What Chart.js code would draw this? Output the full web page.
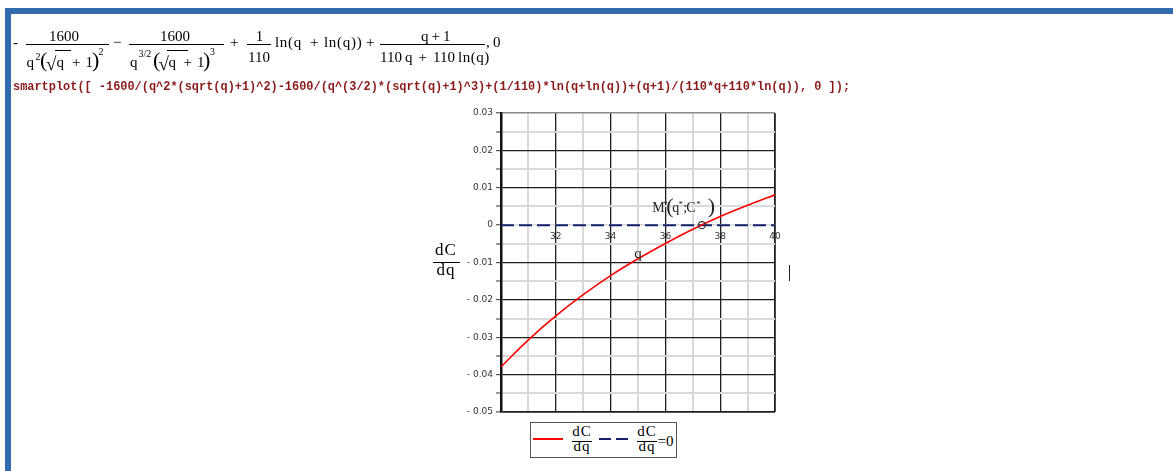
<!DOCTYPE html>
<html><head><meta charset="utf-8">
<script src="https://cdn.jsdelivr.net/npm/chart.js@4.4.1/dist/chart.umd.min.js"></script>
<style>
html,body{margin:0;padding:0;background:#fff;width:1173px;height:471px;overflow:hidden;}
#wrap{position:relative;width:1173px;height:471px;}
.t{position:absolute;white-space:pre;line-height:1;color:#000;}
.hb{position:absolute;}
canvas{position:absolute;left:0;top:0;}
</style></head><body><div id="wrap">
<div class="hb" style="left:5px;top:8px;width:1168px;height:6px;background:#316cad"></div>
<div class="hb" style="left:5px;top:8px;width:6px;height:463px;background:#316cad"></div>
<canvas id="c" width="1173" height="471"></canvas>
</div>
<script>
// ---- data ----
const qValues = [30, 31, 32, 33, 34, 35, 36, 37, 38, 39, 40];
const dCdqValues = [-0.0379, -0.0307, -0.0243, -0.0186, -0.0135, -0.0090, -0.0049, -0.0011, 0.0023, 0.0053, 0.0081];
const zeroLineQ = [30, 40];
const zeroLineValues = [0, 0];
const optimumQ = [37.33];
const optimumValues = [0];
const xTickLabels = [32, 34, 36, 38, 40];
const yTickValues = [0.03, 0.02, 0.01, 0, -0.01, -0.02, -0.03, -0.04, -0.05];
const yTickLabels = ['0.03', '0.02', '0.01', '0', '- 0.01', '- 0.02', '- 0.03', '- 0.04', '- 0.05'];
const codeText = 'smartplot([ -1600/(q^2*(sqrt(q)+1)^2)-1600/(q^(3/2)*(sqrt(q)+1)^3)+(1/110)*ln(q+ln(q))+(q+1)/(110*q+110*ln(q)), 0 ]);';

// ---- HTML text helpers ----
const wrap = document.getElementById('wrap');
const SERIF = '"Liberation Serif","Times New Roman",serif';
const MONO = '"Liberation Mono","Courier New",monospace';
function put(text, x, base, size, o = {}) {
  const s = document.createElement('span');
  s.className = 't';
  s.textContent = text;
  let k = 0.8375, fam = SERIF;
  if (o.mono) { k = 0.7665; fam = MONO; }
  s.style.fontFamily = fam;
  s.style.fontSize = size + 'px';
  s.style.left = x + 'px';
  s.style.top = (base - k * size) + 'px';
  if (o.center) s.style.transform = 'translateX(-50%)';
  if (o.color) s.style.color = o.color;
  if (o.bold) s.style.fontWeight = 'bold';
  if (o.ls) s.style.letterSpacing = o.ls + 'px';
  wrap.appendChild(s);
  return s;
}
function box(x, y, w, h, css) {
  const d = document.createElement('div');
  d.className = 'hb';
  d.style.left = x + 'px'; d.style.top = y + 'px';
  d.style.width = w + 'px'; d.style.height = h + 'px';
  d.style.cssText += ';' + css;
  wrap.appendChild(d);
  return d;
}
function hbar(x, y, w) { return box(x, y, w, 1, 'background:#000'); }

// ---- Maple output formula ----
put('-', 13, 47.5, 15);
hbar(26, 44, 83);
put('1600', 64, 41.5, 15, {center: true});
put('q', 26.5, 67.5, 15);
put('2', 35.5, 60, 10);
put('(', 40, 67.5, 22);
put('\u221A', 46, 70, 19);
hbar(55, 49.5, 16);
put('q', 56.5, 67.5, 15);
put('+', 72, 67.5, 15);
put('1', 85.5, 67.5, 15);
put(')', 92, 67.5, 22);
put('2', 98.5, 55, 10);

put('\u2212', 113, 47.5, 15);
hbar(129, 44, 95);
put('1600', 175, 41.5, 15, {center: true});
put('q', 130, 67.5, 15);
put('3/2', 138.5, 57.5, 10);
put('(', 153, 67.5, 22);
put('\u221A', 158.5, 70, 19);
hbar(167, 49.5, 21);
put('q', 168.5, 67.5, 15);
put('+', 183.5, 67.5, 15);
put('1', 197, 67.5, 15);
put(')', 203, 67.5, 22);
put('3', 210, 55, 10);

put('+', 230, 47.5, 15);
hbar(247, 44, 24);
put('1', 259.5, 41.5, 15, {center: true});
put('110', 259, 63, 15, {center: true});
put('ln(q', 275, 47.5, 15, {ls: 0.7});
put('+', 310, 47.5, 15);
put('ln(q))', 324, 47.5, 15, {ls: 0.7});
put('+', 366, 47.5, 15);
hbar(380, 44, 105);
put('q', 421, 41.5, 15);
put('+', 431.5, 41.5, 15);
put('1', 443, 41.5, 15);
put('110', 380, 63, 15);
put('q', 405, 63, 15);
put('+', 418.5, 63, 15);
put('110', 433, 63, 15);
put('ln(q)', 458, 63, 15, {ls: 0.5});
put(',', 486, 47.5, 15);
put('0', 493, 47.5, 15);

// ---- Maple input line ----
put(codeText, 13, 91, 11.93, {mono: true, bold: true, color: '#8a1a1a'});

// ---- y axis title (fraction) ----
put('dC', 446, 255.5, 17, {center: true, ls: 1});
hbar(433, 262, 27);
put('dq', 446, 275.5, 17, {center: true, ls: 1});

// ---- legend ----
box(530, 422, 147, 36, 'box-sizing:border-box;border:1.5px solid #555;background:#fff');
box(533, 438, 30, 2, 'background:#ff0000');
put('dC', 582, 437, 15, {center: true, ls: 1});
hbar(572, 441, 20);
put('dq', 582, 452, 15, {center: true, ls: 1});
box(599, 438, 12, 2, 'background:#14206a');
box(616, 438, 12, 2, 'background:#14206a');
put('dC', 647, 437, 15, {center: true, ls: 1});
hbar(637, 441, 20);
put('dq', 647, 452, 15, {center: true, ls: 1});
put('=0', 657.5, 446.5, 15);

// ---- text caret ----
box(789, 265, 1, 16, 'background:#222');

// ---- chart ----
const majorGrid = '#1e1e1e', minorGrid = '#d9d9d9';
const isMajorX = v => Math.round(v) % 2 === 0;
const yKey = v => Math.round(v * 1000);
const isMajorY = v => Math.abs(yKey(v)) % 10 === 0;

const annot = {
  id: 'annot',
  afterDatasetsDraw(chart) {
    const {ctx, scales: {x, y}} = chart;
    ctx.save();
    ctx.fillStyle = '#222';
    ctx.textBaseline = 'alphabetic';
    // horizontal axis title "q"
    ctx.textAlign = 'center';
    ctx.font = '15px "Liberation Serif"';
    ctx.fillText('q', x.getPixelForValue(35), y.getPixelForValue(0) + 33);
    // M*(q*;C*) label at the optimum
    const mx = x.getPixelForValue(optimumQ[0]);
    const my = y.getPixelForValue(optimumValues[0]);
    ctx.textAlign = 'left';
    const parts = [
      ['M', -49.5, -13, 14], ['*', -38.5, -18.5, 9], ['(', -35.6, -12.6, 22],
      ['q', -29.6, -13, 14], ['*', -23.3, -18.5, 9], [';', -18.5, -13, 14],
      ['C', -15.6, -13, 14], ['*', -5.6, -18.5, 9], [')', 6, -12.6, 22]
    ];
    for (const [t, dx, dy, s] of parts) {
      ctx.font = s + 'px "Liberation Serif"';
      ctx.fillText(t, mx + dx, my + dy);
    }
    ctx.restore();
  }
};

new Chart(document.getElementById('c'), {
  type: 'scatter',
  data: {
    datasets: [
      {
        label: 'dC/dq',
        data: qValues.map((q, i) => ({x: q, y: dCdqValues[i]})),
        showLine: true, borderColor: '#ff0000', borderWidth: 1.6,
        pointRadius: 0, cubicInterpolationMode: 'monotone', fill: false, order: 1
      },
      {
        label: 'dC/dq=0',
        data: zeroLineQ.map((q, i) => ({x: q, y: zeroLineValues[i]})),
        showLine: true, borderColor: '#14206a', borderWidth: 2, borderDash: [13, 5],
        pointRadius: 0, fill: false, order: 2
      },
      {
        label: 'M*',
        data: optimumQ.map((q, i) => ({x: q, y: optimumValues[i]})),
        showLine: false, pointRadius: 3.6, pointStyle: 'circle',
        borderColor: '#333', backgroundColor: 'rgba(0,0,0,0)', borderWidth: 1.2, order: 0
      }
    ]
  },
  options: {
    responsive: false, animation: false, devicePixelRatio: 1,
    layout: {padding: {left: 441, right: 398, top: 113, bottom: 59}},
    plugins: {legend: {display: false}, tooltip: {enabled: false}},
    scales: {
      x: {
        type: 'linear', position: {y: 0}, min: 30, max: 40,
        ticks: {
          stepSize: 1, autoSkip: false, maxRotation: 0, padding: 6,
          font: {family: 'DejaVu Sans', size: 9}, color: '#333',
          callback: v => xTickLabels.includes(Math.round(v)) ? String(Math.round(v)) : ''
        },
        grid: {
          drawTicks: false,
          color: c => isMajorX(c.tick.value) ? majorGrid : minorGrid,
          lineWidth: c => (c.tick.value === 40 ? 1.8 : (isMajorX(c.tick.value) ? 1.3 : 2))
        },
        border: {display: false}
      },
      y: {
        type: 'linear', min: -0.05, max: 0.03,
        afterFit: s => { s.width = 60; },
        ticks: {
          stepSize: 0.005, autoSkip: false, padding: 3,
          font: {family: 'DejaVu Sans', size: 9}, color: '#333',
          callback: v => {
            if (!isMajorY(v)) return '';
            const i = yTickValues.findIndex(t => Math.abs(t - v) < 1e-9);
            return i >= 0 ? yTickLabels[i] : '';
          }
        },
        grid: {
          drawTicks: true, tickLength: 5, tickColor: '#333', tickWidth: 1,
          color: c => {
            const k = yKey(c.tick.value);
            if (k === 30) return '#8a8a8a';
            if (k === 0) return minorGrid;
            return isMajorY(c.tick.value) ? majorGrid : minorGrid;
          },
          lineWidth: c => {
            const k = yKey(c.tick.value);
            if (k === -50) return 1.8;
            if (k === 30 || k === 0) return 1.5;
            return isMajorY(c.tick.value) ? 1.3 : 2;
          }
        },
        border: {display: true, color: '#111', width: 2.5}
      }
    }
  },
  plugins: [annot]
});
</script>
</body></html>
